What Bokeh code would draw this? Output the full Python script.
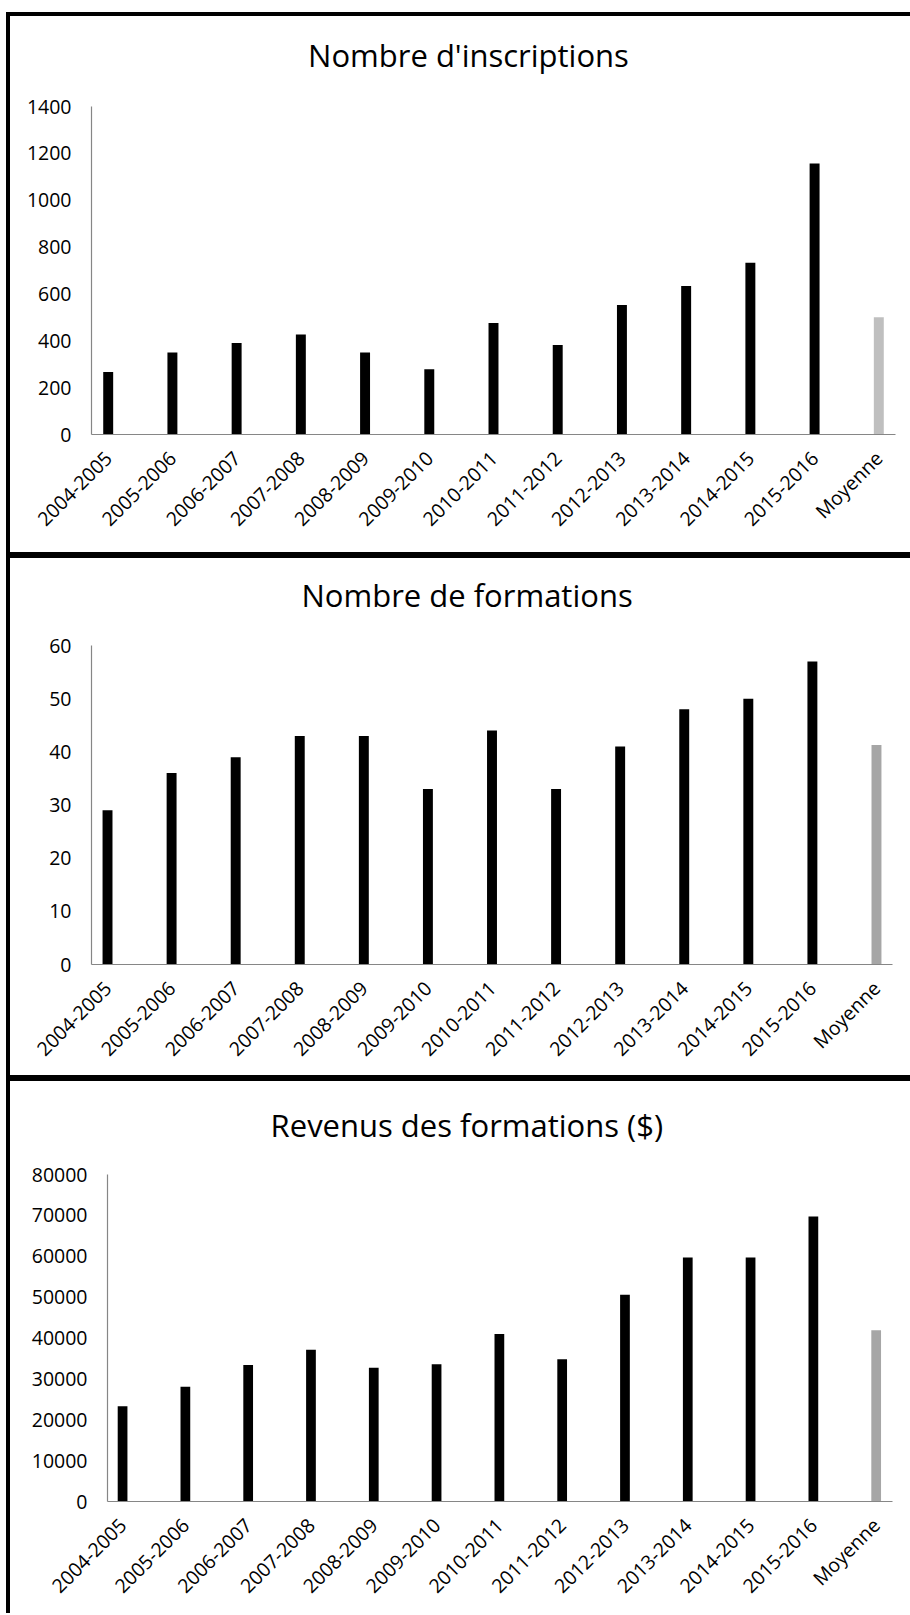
import math
from bokeh.plotting import figure
from bokeh.models import Range1d, FixedTicker, Div
from bokeh.layouts import column, row
from bokeh.core.properties import value
from bokeh.embed import file_html
from bokeh.resources import INLINE

# ---------------- data ----------------
years = ["2004-2005", "2005-2006", "2006-2007", "2007-2008", "2008-2009", "2009-2010",
         "2010-2011", "2011-2012", "2012-2013", "2013-2014", "2014-2015", "2015-2016"]
avg_label = "Moyenne"

inscriptions = [267, 350, 391, 427, 350, 279, 476, 382, 553, 634, 733, 1157]
inscriptions_avg = 500
inscriptions_ticks = [0, 200, 400, 600, 800, 1000, 1200, 1400]

formations = [29, 36, 39, 43, 43, 33, 44, 33, 41, 48, 50, 57]
formations_avg = 41.3
formations_ticks = [0, 10, 20, 30, 40, 50, 60]

revenus = [23300, 28100, 33400, 37100, 32700, 33600, 41000, 34800, 50600, 59700, 59700, 69700]
revenus_avg = 41900
revenus_ticks = [0, 10000, 20000, 30000, 40000, 50000, 60000, 70000, 80000]

titles = ["Nombre d'inscriptions", "Nombre de formations", "Revenus des formations ($)"]

FONT = "Open Sans"
CANVAS_W = 900


def make_title(text, height, baseline_from_bottom, center_x=422):
    t = figure(width=CANVAS_W, height=height, output_backend="svg", toolbar_location=None,
               x_range=Range1d(0, CANVAS_W), y_range=Range1d(0, height),
               x_axis_location=None, y_axis_location=None,
               min_border=0, min_border_left=0, min_border_right=0,
               min_border_top=0, min_border_bottom=0)
    t.outline_line_color = None
    t.grid.visible = False
    t.text(x=[center_x], y=[baseline_from_bottom], text=[text],
           text_font=value(FONT), text_font_size="31px", text_color="black",
           text_align="center", text_baseline="alphabetic")
    return t


def make_chart(values, avg, yticks, avg_color, height, mb_left, mb_right,
               mb_top, mb_bottom, x_start, x_end):
    cats = years + [avg_label]
    xs = list(range(len(cats)))
    p = figure(width=CANVAS_W, height=height, output_backend="svg", toolbar_location=None,
               x_range=Range1d(x_start, x_end), y_range=Range1d(yticks[0], yticks[-1]),
               min_border_left=mb_left, min_border_right=mb_right,
               min_border_top=mb_top, min_border_bottom=mb_bottom)
    p.outline_line_color = None
    p.grid.visible = False
    p.background_fill_color = "white"
    p.border_fill_color = "white"

    p.vbar(x=xs[:-1], top=values, width=0.155, bottom=0, color="black", line_color=None)
    p.vbar(x=[xs[-1]], top=[avg], width=0.155, bottom=0, color=avg_color, line_color=None)

    for ax in (p.xaxis[0], p.yaxis[0]):
        ax.axis_line_color = "#868686"
        ax.axis_line_width = 1.2
        ax.major_tick_in = 0
        ax.major_tick_out = 0
        ax.minor_tick_in = 0
        ax.minor_tick_out = 0
        ax.major_label_text_font = FONT
        ax.major_label_text_font_size = "19.5px"
        ax.major_label_text_color = "black"

    p.yaxis.ticker = FixedTicker(ticks=yticks)
    p.yaxis.major_label_standoff = 20

    p.xaxis.ticker = FixedTicker(ticks=xs)
    p.xaxis.major_label_overrides = {i: c for i, c in enumerate(cats)}
    p.xaxis.major_label_orientation = math.pi / 4
    p.xaxis.major_label_standoff = 20
    return p


t1 = make_title(titles[0], 74, 36)
c1 = make_chart(inscriptions, inscriptions_avg, inscriptions_ticks, "#BFBFBF",
                462, 81, 15, 16, 118, -0.26, 12.26)
t2 = make_title(titles[1], 72, 35.5)
c2 = make_chart(formations, formations_avg, formations_ticks, "#A6A6A6",
                445, 81, 18, 15, 111, -0.25, 12.25)
t3 = make_title(titles[2], 78, 34.5, center_x=412)
c3 = make_chart(revenus, revenus_avg, revenus_ticks, "#A6A6A6",
                454, 97, 18, 15, 112, -0.24, 12.26)

BLACK = {"background-color": "black"}


def vbar_div(h):
    return Div(text="", width=4, height=h, margin=0, styles=BLACK)


def hbar_div(h):
    return Div(text="", width=CANVAS_W + 4, height=h, margin=0, styles=BLACK)


def panel(title_fig, chart_fig, h):
    return row(vbar_div(h), column(title_fig, chart_fig, spacing=0), spacing=0)


layout = column(
    hbar_div(4),
    panel(t1, c1, 536),
    hbar_div(6),
    panel(t2, c2, 517),
    hbar_div(6),
    panel(t3, c3, 532),
    spacing=0,
    margin=(12, 0, 0, 6),
)

open("out.html", "w").write(file_html(layout, INLINE))
